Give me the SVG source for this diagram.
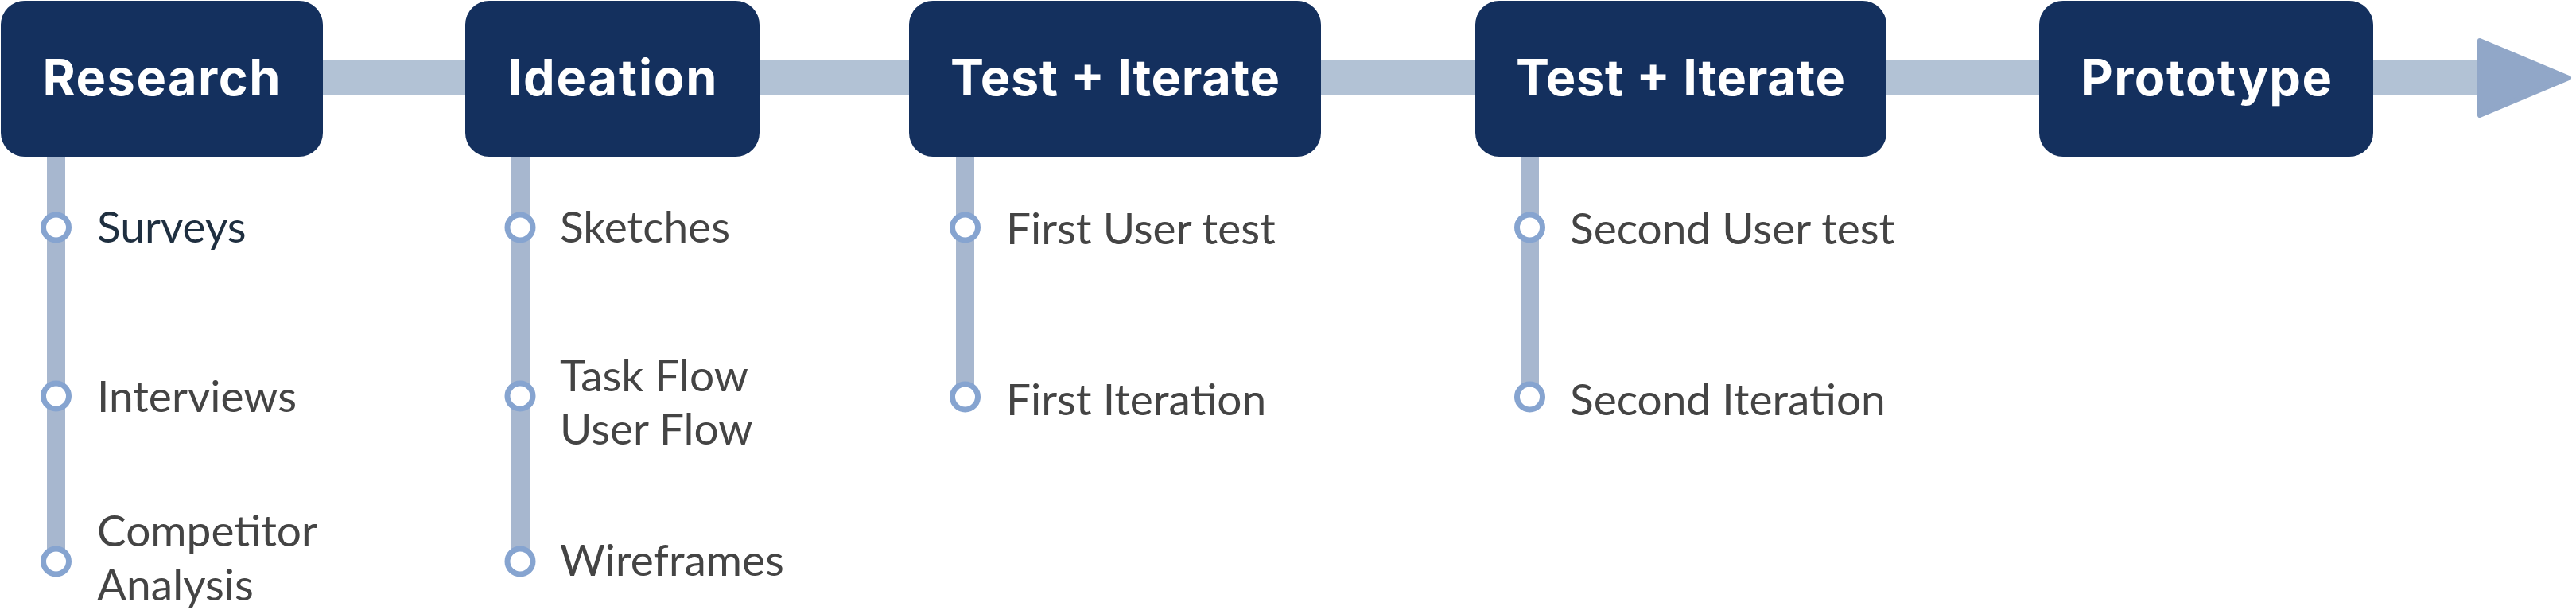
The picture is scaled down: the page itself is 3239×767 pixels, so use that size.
<svg xmlns="http://www.w3.org/2000/svg" width="3239" height="767" viewBox="0 0 3239 767">
<style>
.box{fill:#14305e}
.hdr{font-family:Inter,"Open Sans","Liberation Sans",sans-serif;font-weight:700;font-size:63px;fill:#ffffff;text-anchor:middle}
.item{font-family:Lato,"Liberation Sans",sans-serif;font-size:55px;fill:#444444}
.vbar{fill:#a7b7cf}
.dot{fill:#ffffff;stroke:#86a4d0;stroke-width:7}
</style>
<rect width="3239" height="767" fill="#ffffff"/>
<g id="connectors">
<rect x="200" y="76" width="2920" height="43" fill="#b2c2d5"/>
<polygon points="3118,51 3230,98 3118,145" fill="#91a7c8" stroke="#91a7c8" stroke-width="6" stroke-linejoin="round"/>
<rect class="vbar" x="59" y="190" width="23" height="516"/>
<rect class="vbar" x="642" y="190" width="24" height="516"/>
<rect class="vbar" x="1202" y="190" width="23" height="309"/>
<rect class="vbar" x="1912" y="190" width="23" height="309"/>
</g>
<g id="node-research">
<rect class="box" x="1" y="1" width="405" height="196" rx="30"/>
<text class="hdr" x="203" y="120" textLength="299">Research</text>
</g>
<g id="node-ideation">
<rect class="box" x="585" y="1" width="370" height="196" rx="30"/>
<text class="hdr" x="770" y="120" textLength="263">Ideation</text>
</g>
<g id="node-test1">
<rect class="box" x="1143" y="1" width="518" height="196" rx="30"/>
<text class="hdr" x="1402" y="120" textLength="414">Test + Iterate</text>
</g>
<g id="node-test2">
<rect class="box" x="1855" y="1" width="517" height="196" rx="30"/>
<text class="hdr" x="2113" y="120" textLength="414">Test + Iterate</text>
</g>
<g id="node-prototype">
<rect class="box" x="2564" y="1" width="420" height="196" rx="30"/>
<text class="hdr" x="2774" y="120" textLength="316">Prototype</text>
</g>
<g id="items-research">
<circle class="dot" cx="70.5" cy="286" r="16"/>
<circle class="dot" cx="70.5" cy="498" r="16"/>
<circle class="dot" cx="70.5" cy="706" r="16"/>
<text class="item" x="122" y="305" style="fill:#1f2f40">Surveys</text>
<text class="item" x="122" y="518">Interviews</text>
<text class="item" x="122" y="687">Competitor</text>
<text class="item" x="122" y="755">Analysis</text>
</g>
<g id="items-ideation">
<circle class="dot" cx="654" cy="286" r="16"/>
<circle class="dot" cx="654" cy="498" r="16"/>
<circle class="dot" cx="654" cy="706" r="16"/>
<text class="item" x="704" y="305">Sketches</text>
<text class="item" x="704" y="492">Task Flow</text>
<text class="item" x="704" y="559">User Flow</text>
<text class="item" x="704" y="724">Wireframes</text>
</g>
<g id="items-test1">
<circle class="dot" cx="1213.5" cy="286" r="16"/>
<circle class="dot" cx="1213.5" cy="499" r="16"/>
<text class="item" x="1265" y="307">First User test</text>
<text class="item" x="1265" y="522">First Iteration</text>
</g>
<g id="items-test2">
<circle class="dot" cx="1923.5" cy="286" r="16"/>
<circle class="dot" cx="1923.5" cy="499" r="16"/>
<text class="item" x="1974" y="307">Second User test</text>
<text class="item" x="1974" y="522">Second Iteration</text>
</g>
</svg>
